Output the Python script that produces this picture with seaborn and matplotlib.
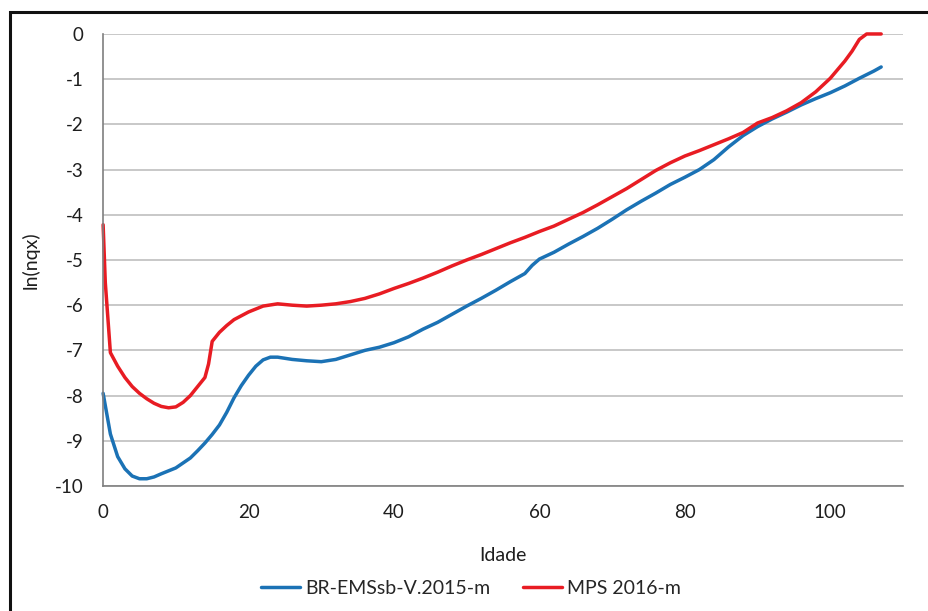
import matplotlib
matplotlib.use("Agg")
import matplotlib.pyplot as plt
from matplotlib.patches import Rectangle
import pandas as pd
import seaborn as sns

# BR-EMSsb-V.2015-m
ages_br = [0, 1, 2, 3, 4, 5, 6, 7, 8, 10, 12, 13, 14, 15, 16, 17, 18, 19, 20,
           21, 22, 23, 24, 26, 28, 30, 32, 34, 36, 38, 40, 42, 44, 46, 48, 50,
           52, 54, 56, 58, 59, 60, 62, 64, 66, 68, 70, 72, 74, 76, 78, 80, 82,
           84, 86, 88, 90, 92, 94, 96, 98, 100, 102, 104, 106, 107]
lnq_br = [-7.95, -8.85, -9.35, -9.62, -9.78, -9.84, -9.84, -9.80, -9.73, -9.60,
          -9.38, -9.22, -9.05, -8.86, -8.65, -8.37, -8.05, -7.78, -7.55, -7.35,
          -7.21, -7.15, -7.15, -7.20, -7.23, -7.25, -7.20, -7.10, -7.00, -6.93,
          -6.83, -6.70, -6.53, -6.38, -6.20, -6.02, -5.85, -5.67, -5.48, -5.30,
          -5.12, -4.98, -4.83, -4.65, -4.48, -4.30, -4.10, -3.89, -3.70, -3.52,
          -3.33, -3.17, -3.00, -2.78, -2.50, -2.25, -2.05, -1.88, -1.73, -1.57,
          -1.43, -1.30, -1.15, -0.98, -0.82, -0.73]

# MPS 2016-m
ages_mps = [0, 0.3, 1, 2, 3, 4, 5, 6, 7, 8, 9, 10, 11, 12, 13, 14, 14.5, 15, 16,
            17, 18, 20, 22, 24, 26, 28, 30, 32, 34, 36, 38, 40, 42, 44, 46, 48,
            50, 52, 54, 56, 58, 60, 62, 64, 66, 68, 70, 72, 74, 76, 78, 80, 82,
            84, 86, 88, 90, 92, 94, 96, 98, 100, 102, 103, 104, 105, 107]
lnq_mps = [-4.22, -5.50, -7.05, -7.35, -7.60, -7.80, -7.95, -8.07, -8.17, -8.24,
           -8.27, -8.25, -8.15, -8.00, -7.80, -7.60, -7.30, -6.80, -6.60, -6.45,
           -6.32, -6.15, -6.02, -5.97, -6.00, -6.02, -6.00, -5.97, -5.92, -5.85,
           -5.75, -5.63, -5.52, -5.40, -5.27, -5.13, -5.00, -4.88, -4.75, -4.62,
           -4.50, -4.37, -4.25, -4.10, -3.95, -3.78, -3.60, -3.42, -3.22, -3.02,
           -2.85, -2.70, -2.58, -2.45, -2.32, -2.18, -1.97, -1.85, -1.70, -1.52,
           -1.28, -0.98, -0.60, -0.38, -0.12, 0.00, 0.00]

series_names = ["BR-EMSsb-V.2015-m", "MPS 2016-m"]
colors = ["#1b72b5", "#e81c23"]

df = pd.concat([
    pd.DataFrame({"Idade": ages_br, "lnq": lnq_br, "serie": series_names[0]}),
    pd.DataFrame({"Idade": ages_mps, "lnq": lnq_mps, "serie": series_names[1]}),
])

sns.set_theme(style="white")
plt.rcParams["font.family"] = ["Lato", "DejaVu Sans"]
plt.rcParams["axes.unicode_minus"] = False

fig = plt.figure(figsize=(9.29, 6.11), dpi=100)
ax = fig.add_axes([0.111, 0.2046, 0.861, 0.7398])

sns.lineplot(data=df, x="Idade", y="lnq", hue="serie", palette=colors,
             linewidth=2.5, ax=ax, sort=False, clip_on=False)

ax.set_xlim(0, 110)
ax.set_ylim(-10, 0)
ax.set_xticks(range(0, 101, 20))
ax.set_yticks(range(-10, 1))
ax.grid(axis="y", color="#bfbfbf", linewidth=1.2)
ax.set_axisbelow(True)
for s in ["top", "right"]:
    ax.spines[s].set_visible(False)
for s in ["left", "bottom"]:
    ax.spines[s].set_color("#7f7f7f")
    ax.spines[s].set_linewidth(1.2)
ax.tick_params(axis="both", direction="out", length=5, width=1.2,
               color="#7f7f7f", labelsize=13.5, labelcolor="#1e1e1e")
ax.tick_params(axis="y", pad=9)
ax.tick_params(axis="x", pad=8)
ax.set_xlabel("Idade", fontsize=14, color="#1e1e1e")
ax.set_ylabel("ln(nqx)", fontsize=14, color="#1e1e1e")
ax.xaxis.set_label_coords(0.5, -0.135)
ax.yaxis.set_label_coords(-0.079, 0.5)

ax.legend(loc="center", bbox_to_anchor=(0.46, -0.226), ncol=2,
          frameon=False, fontsize=14, handlelength=2.0, handletextpad=0.25,
          columnspacing=1.7, borderaxespad=0)

fig.add_artist(Rectangle((0.011, -0.05), 1.1, 1.03, transform=fig.transFigure,
                         fill=False, edgecolor="#111111", linewidth=2.2))

fig.savefig("out.png", dpi=100, facecolor="white")
